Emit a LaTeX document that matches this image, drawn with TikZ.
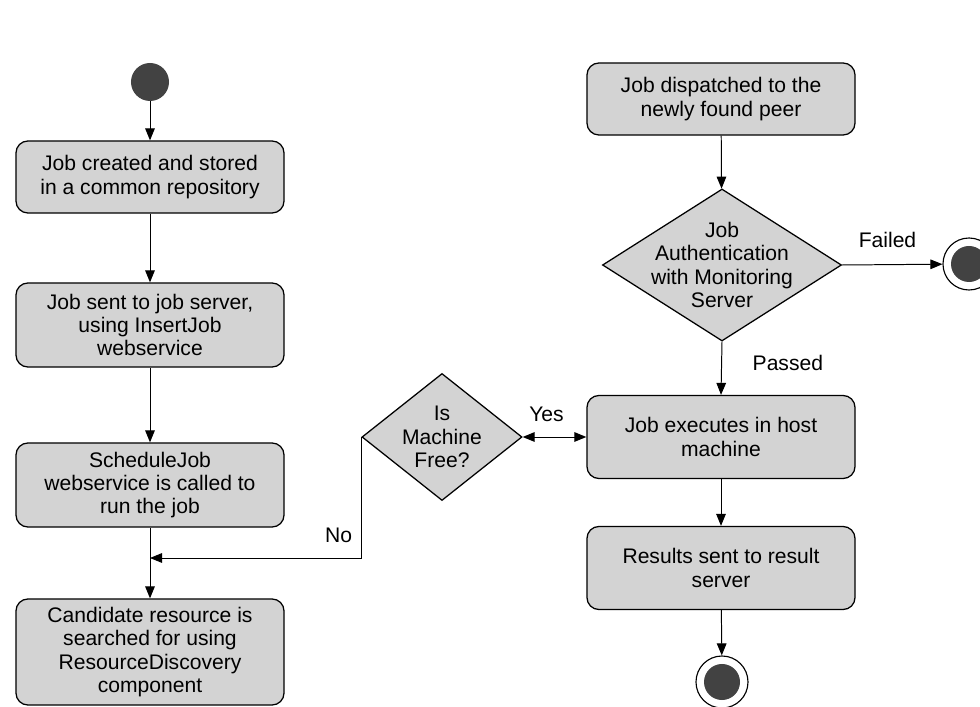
\documentclass[tikz,border=0pt]{standalone}
\usepackage{fontspec}
\setmainfont{Liberation Sans}
\usetikzlibrary{shapes.geometric,arrows.meta}
\definecolor{boxgray}{RGB}{211,211,211}
\definecolor{dotgray}{RGB}{66,66,66}

\begin{document}
\begin{tikzpicture}[x=0.025cm, y=-0.025cm,
  every node/.style={font=\fontsize{15pt}{16.5pt}\selectfont},
  action/.style={draw, line width=0.9pt, rounded corners=0.3cm, fill=boxgray, align=center, minimum width=6.7cm, inner sep=0pt},
  decision/.style={draw, line width=0.9pt, diamond, fill=boxgray, inner sep=0pt},
  startdot/.style={circle, fill=dotgray, minimum size=0.95cm, inner sep=0pt},
  enddot/.style={circle, draw, line width=0.8pt, fill=white, minimum size=1.3cm, inner sep=0pt,
    path picture={\fill[dotgray] (path picture bounding box.center) circle (0.45cm);}},
  flow/.style={line width=0.7pt, -{Triangle[length=0.3cm, width=0.24cm]}}]
\useasboundingbox (0,0) rectangle (980,707);

\node[startdot] (start) at (150,82) {};
\node[action, minimum height=1.8cm] (created) at (150,177) {Job created and stored\\in a common repository};
\node[action, minimum height=2.1cm] (sent) at (150,325) {Job sent to job server,\\using InsertJob\\webservice};
\node[action, minimum height=2.1cm] (schedule) at (150,485) {ScheduleJob\\webservice is called to\\run the job};
\node[action, minimum height=2.65cm] (candidate) at (150,652) {Candidate resource is\\searched for using\\ResourceDiscovery\\component};

\node[decision, minimum width=4cm, minimum height=3.175cm,
  label={[align=center]center:Is\\Machine\\Free?}] (machine) at (442,437) {};

\node[action, minimum height=1.8cm] (dispatched) at (721,99) {Job dispatched to the\\newly found peer};
\node[decision, minimum width=5.975cm, minimum height=3.8cm,
  label={[align=center]center:Job\\Authentication\\with Monitoring\\Server}] (auth) at (722,265) {};
\node[enddot] (failend) at (969,264) {};
\node[action, minimum height=2.075cm] (executes) at (721,437) {Job executes in host\\machine};
\node[action, minimum height=2.075cm] (results) at (721,568) {Results sent to result\\server};
\node[enddot] (doneend) at (722,682) {};

\draw[flow] (start) -- (created);
\draw[flow] (created) -- (sent);
\draw[flow] (sent) -- (schedule);
\draw[flow] (schedule) -- (candidate);
\coordinate (merge) at (150,558);
\draw[flow] (machine.west) |- node[pos=0.5, above left, xshift=-0.1cm, yshift=0.25cm] (no) {No} (merge);
\draw[line width=0.7pt, {Triangle[length=0.3cm, width=0.24cm]}-{Triangle[length=0.3cm, width=0.24cm]}]
  (machine.east) -- node[above, xshift=-0.2cm, yshift=0.25cm] (yes) {Yes} (executes.west);

\draw[flow] (dispatched) -- (auth);
\draw[flow] (auth.east) -- node[above, xshift=-0.12cm, yshift=0.3cm] (failed) {Failed} (failend);
\draw[flow] (auth.south) -- node[anchor=west, xshift=0.65cm, yshift=0.12cm] (passed) {Passed} (executes.north);
\draw[flow] (executes) -- (results);
\draw[flow] (results) -- (doneend);
\end{tikzpicture}
\end{document}
